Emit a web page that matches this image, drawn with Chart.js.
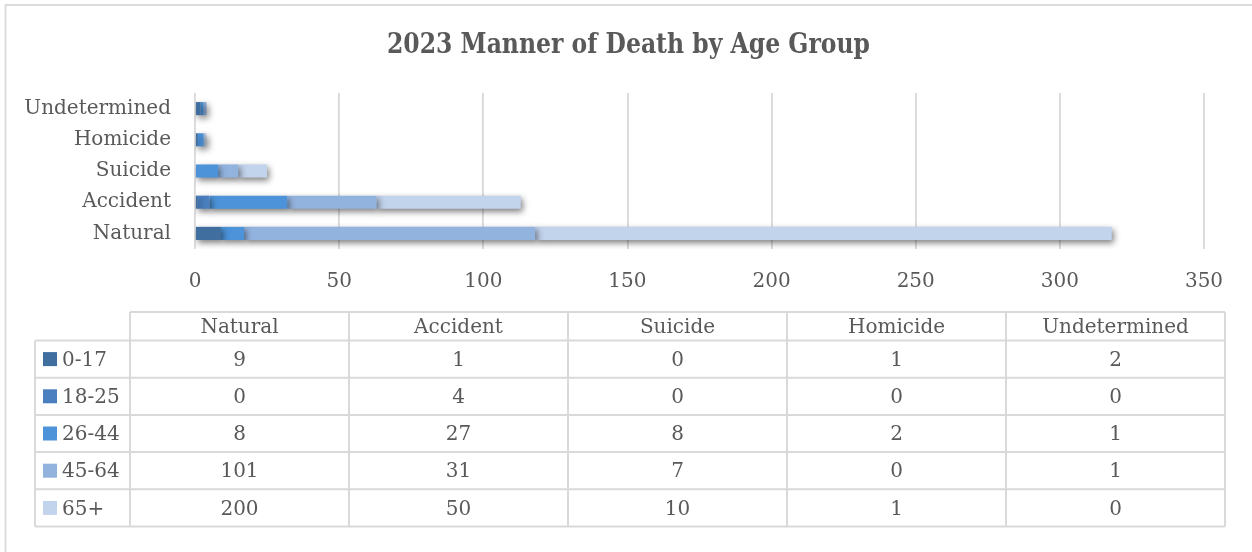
<!DOCTYPE html>
<html>
<head>
<meta charset="utf-8">
<script src="https://cdn.jsdelivr.net/npm/chart.js@4/dist/chart.umd.min.js"></script>
<style>
  html, body { margin: 0; padding: 0; background: #ffffff; }
  #wrap { width: 1252px; height: 552px; position: relative; }
</style>
</head>
<body>
<div id="wrap"><canvas id="c" width="1252" height="552"></canvas></div>
<script>
// Manner of death categories (table column order)
const categories = ['Natural', 'Accident', 'Suicide', 'Homicide', 'Undetermined'];

// Age groups (series)
const ageGroups = ['0-17', '18-25', '26-44', '45-64', '65+'];

// Deaths per category for each age group
const age0to17  = [9, 1, 0, 1, 2];
const age18to25 = [0, 4, 0, 0, 0];
const age26to44 = [8, 27, 8, 2, 1];
const age45to64 = [101, 31, 7, 0, 1];
const age65plus = [200, 50, 10, 1, 0];

// Value axis
const xMin = 0;
const xMax = 350;
const xStep = 50;

const chartTitle = '2023 Manner of Death by Age Group';

const seriesValues = [age0to17, age18to25, age26to44, age45to64, age65plus];
const seriesColors = ['#3F6E9F', '#4A80BF', '#4C93D9', '#93B3DF', '#C2D3EC'];

const FONT = 'DejaVu Serif';
const TEXT = '#595959';
const LINE = '#d9d9d9';

// Outer frame of the chart and the heading
const framePlugin = {
  id: 'frame',
  beforeDraw(chart) {
    const ctx = chart.ctx;
    ctx.save();
    ctx.fillStyle = '#ffffff';
    ctx.fillRect(0, 0, chart.width, chart.height);
    ctx.strokeStyle = LINE;
    ctx.lineWidth = 1.8;
    ctx.strokeRect(5.5, 5, chart.width + 20, chart.height + 20);

    // heading: condensed bold serif
    ctx.font = 'bold 28px "' + FONT + '"';
    ctx.fillStyle = TEXT;
    ctx.textBaseline = 'alphabetic';
    ctx.textAlign = 'center';
    const w = ctx.measureText(chartTitle).width;
    const sx = 483 / w;
    ctx.translate(628.5, 53);
    ctx.scale(sx, 1);
    ctx.fillText(chartTitle, 0, 0);
    ctx.restore();
  }
};

// Soft drop shadow under the bars
const shadowPlugin = {
  id: 'barShadow',
  beforeDatasetsDraw(chart) {
    const ctx = chart.ctx;
    ctx.save();
    ctx.shadowColor = 'rgba(0,0,0,0.5)';
    ctx.shadowBlur = 6;
    ctx.shadowOffsetX = 2;
    ctx.shadowOffsetY = 3;
  },
  afterDatasetsDraw(chart) {
    chart.ctx.restore();
  }
};

// Data table with legend keys below the plot
const dataTablePlugin = {
  id: 'dataTable',
  afterDraw(chart) {
    const ctx = chart.ctx;
    const cats = chart.data.labels;
    const sets = chart.data.datasets;
    const left = 35, keyRight = 130, right = 1225;
    const headTop = 312, headBottom = 340.5, rowH = 37.2;
    const colW = (right - keyRight) / cats.length;
    const bottom = headBottom + rowH * sets.length;

    ctx.save();
    ctx.strokeStyle = LINE;
    ctx.lineWidth = 2;
    ctx.beginPath();
    ctx.moveTo(keyRight, headTop); ctx.lineTo(right, headTop);
    for (let i = 0; i <= sets.length; i++) {
      const y = headBottom + rowH * i;
      ctx.moveTo(left, y); ctx.lineTo(right, y);
    }
    ctx.moveTo(left, headBottom); ctx.lineTo(left, bottom);
    for (let c = 0; c <= cats.length; c++) {
      const x = keyRight + colW * c;
      ctx.moveTo(x, headTop); ctx.lineTo(x, bottom);
    }
    ctx.stroke();

    ctx.fillStyle = TEXT;
    ctx.font = '20px "' + FONT + '"';
    ctx.textBaseline = 'middle';
    ctx.textAlign = 'center';
    cats.forEach((cat, c) => {
      ctx.fillText(cat, keyRight + colW * (c + 0.5), (headTop + headBottom) / 2 + 1.5);
    });

    sets.forEach((ds, r) => {
      const yMid = headBottom + rowH * (r + 0.5);
      ctx.fillStyle = ds.backgroundColor;
      ctx.fillRect(43, yMid - 7, 14, 14);
      ctx.fillStyle = TEXT;
      ctx.textAlign = 'left';
      ctx.fillText(ds.label, 62, yMid + 1.5);
      ctx.textAlign = 'center';
      ds.data.forEach((v, c) => {
        ctx.fillText(String(v), keyRight + colW * (c + 0.5), yMid + 1.5);
      });
    });
    ctx.restore();
  }
};

new Chart(document.getElementById('c'), {
  type: 'bar',
  data: {
    labels: categories,
    datasets: ageGroups.map((g, i) => ({
      label: g,
      data: seriesValues[i],
      backgroundColor: seriesColors[i],
      borderWidth: 0,
      barPercentage: 0.42,
      categoryPercentage: 1.0
    }))
  },
  options: {
    indexAxis: 'y',
    responsive: false,
    animation: false,
    layout: { padding: { left: 0, right: 48, top: 93, bottom: 0 } },
    plugins: {
      legend: { display: false },
      tooltip: { enabled: false },
      title: { display: false }
    },
    scales: {
      x: {
        stacked: true,
        min: xMin,
        max: xMax,
        ticks: {
          stepSize: xStep,
          color: TEXT,
          font: { family: FONT, size: 20 },
          padding: 21,
          maxRotation: 0
        },
        grid: { color: LINE, lineWidth: 1.8, drawTicks: false },
        border: { display: false },
        afterFit(scale) { scale.height = 303; }
      },
      y: {
        stacked: true,
        reverse: true,
        ticks: {
          color: TEXT,
          font: { family: FONT, size: 20 },
          padding: 24
        },
        grid: { display: false, drawTicks: false },
        border: { display: false },
        afterFit(scale) { scale.width = 195; }
      }
    }
  },
  plugins: [framePlugin, shadowPlugin, dataTablePlugin]
});
</script>
</body>
</html>
